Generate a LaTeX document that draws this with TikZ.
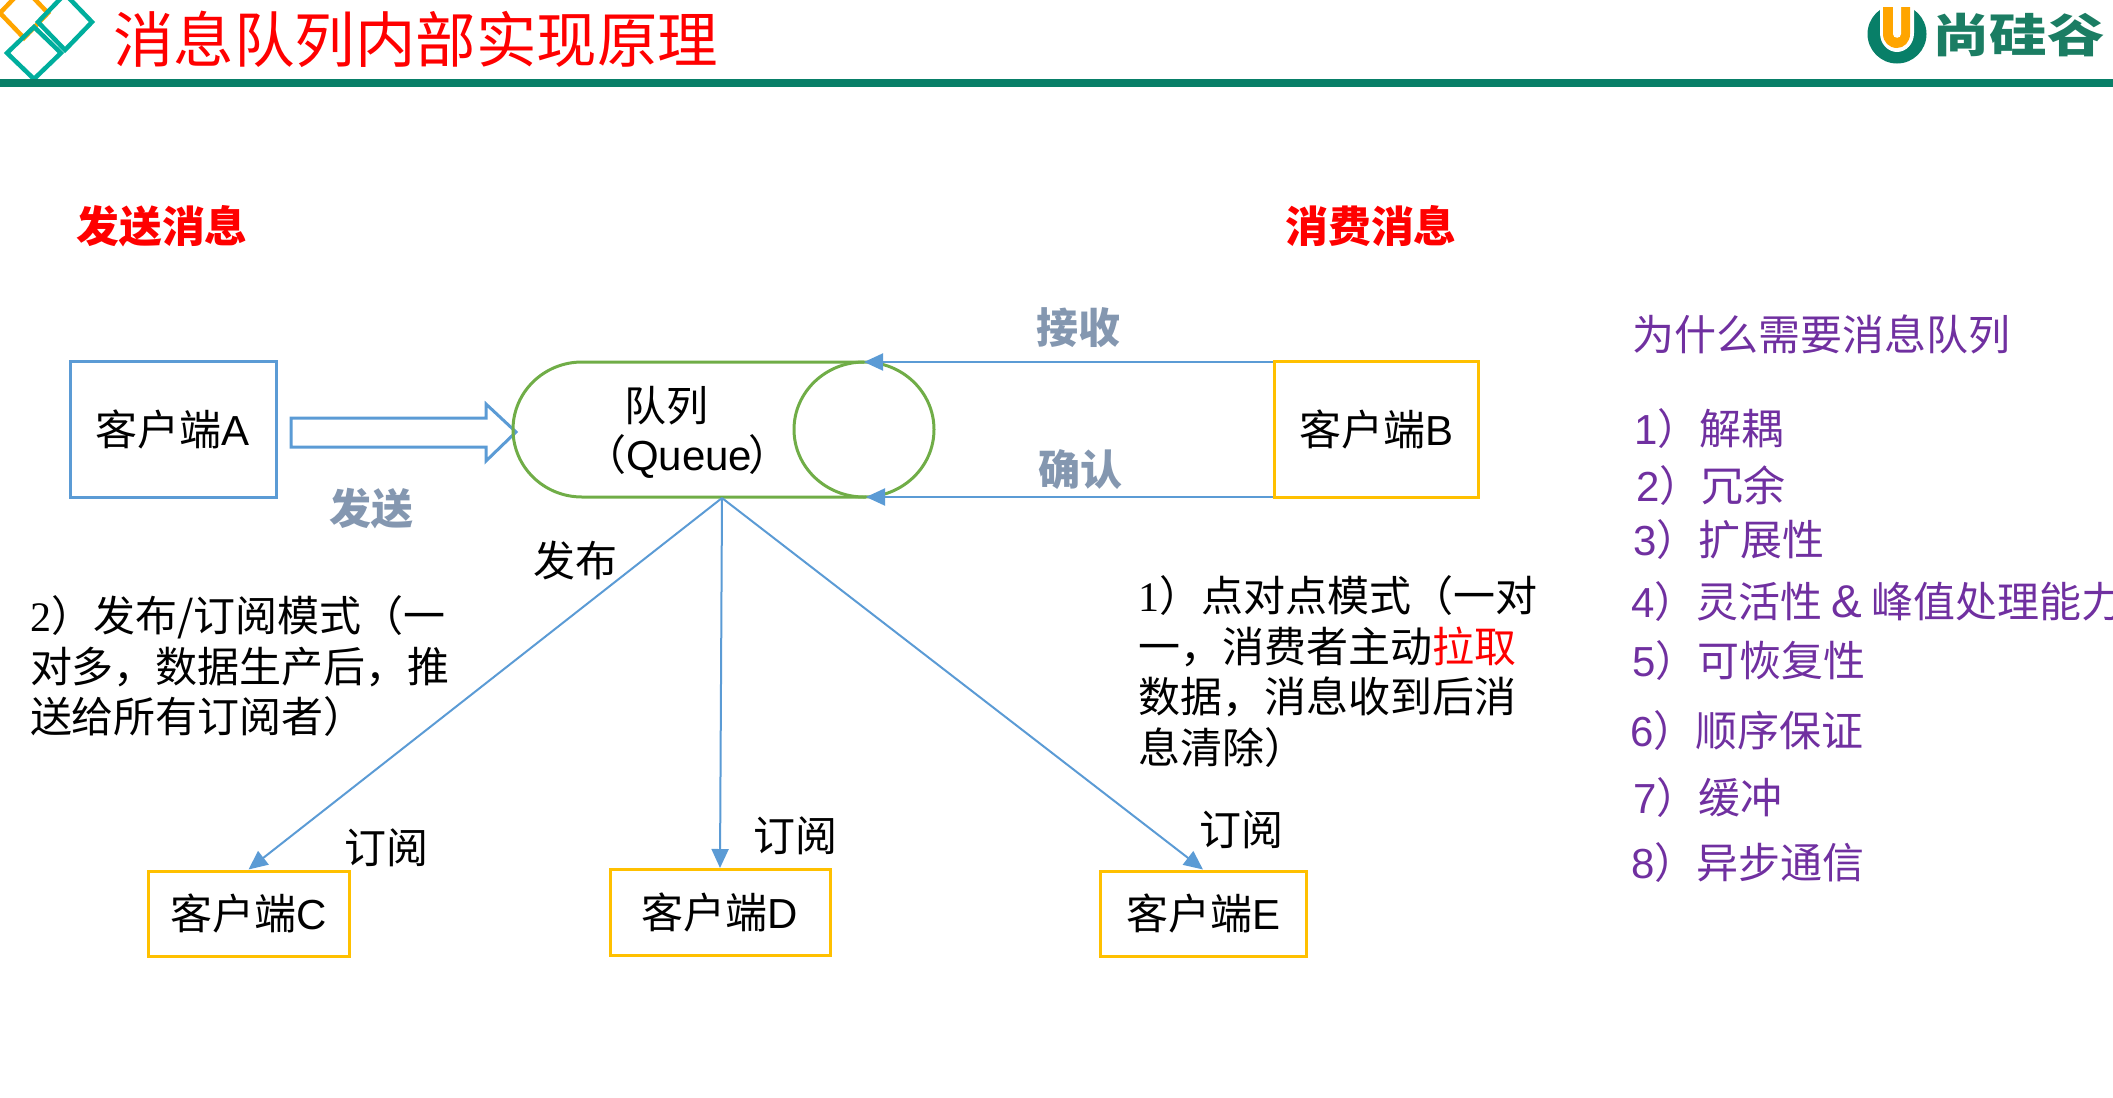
\documentclass[tikz,border=0pt]{standalone}
\usepackage{fontspec}
\usetikzlibrary{arrows.meta}
\setmainfont{Noto Sans CJK SC}
\newfontfamily\arialf{Liberation Sans}
\newfontfamily\timesf{Liberation Serif}
\newcommand{\lat}[1]{{\arialf #1}}
\newcommand{\ser}[1]{{\timesf #1}}
\newcommand{\cli}[1]{\raisebox{-1.5pt}{客户端\lat{#1}}}
\definecolor{bandgreen}{HTML}{087F68}
\definecolor{logogreen}{HTML}{1B7D63}
\definecolor{diamteal}{HTML}{00AE9D}
\definecolor{diamorange}{HTML}{FFA500}
\definecolor{boxblue}{HTML}{5B9BD5}
\definecolor{boxyellow}{HTML}{FFC000}
\definecolor{qgreen}{HTML}{70AD47}
\definecolor{greyblue}{HTML}{8497B0}
\definecolor{listpurple}{HTML}{7030A0}
\tikzset{
  x=1pt,y=-1pt,
  txt/.style={inner sep=0pt,outer sep=0pt,font=\fontsize{42}{50.5}\selectfont},
  boldred/.style={txt,font=\fontsize{42.8}{50}\selectfont\bfseries,text=red},
  boldgrey/.style={txt,font=\fontsize{42}{50}\selectfont\bfseries,text=greyblue},
  listitem/.style={txt,anchor=west,text=listpurple},
  note/.style={txt,anchor=north west,align=left},
  bluebox/.style={draw=boxblue,line width=3pt,inner sep=0pt,font=\fontsize{42}{50}\selectfont},
  yellowbox/.style={draw=boxyellow,line width=3pt,inner sep=0pt,font=\fontsize{42}{50}\selectfont},
  conn/.style={draw=boxblue,line width=2pt,-{Triangle[length=19pt,width=17pt]}},
  diam/.style={line width=4.5pt,fill=none},
}
\begin{document}
\begin{tikzpicture}
\useasboundingbox (0,0) rectangle (2113,1098);
% header decoration
\draw[diam,draw=diamorange] (24,-12) -- (48,13) -- (24,38) -- (0,13) -- cycle;
\draw[diam,draw=diamteal] (65,-6) -- (92,22) -- (65,50) -- (38,22) -- cycle;
\draw[diam,draw=diamteal] (34,27) -- (61,53) -- (34,79) -- (7,53) -- cycle;
\fill[bandgreen] (0,79) rectangle (2113,87);
\node[txt,font=\fontsize{60.5}{60}\selectfont,text=red,anchor=west] (title) at (113,39) {消息队列内部实现原理};
% logo
\fill[bandgreen] (1897,34) circle[radius=29.5];
\fill[white] (1880,0) -- (1914,0) -- (1914,33) .. controls (1914,44) and (1906,52) .. (1897,52) .. controls (1888,52) and (1880,44) .. (1880,33) -- cycle;
\fill[diamorange] (1883,7) -- (1910,7) -- (1910,34) .. controls (1910,42) and (1904,48) .. (1897,48) .. controls (1889,48) and (1883,42) .. (1883,34) -- cycle;
\fill[white] (1893,7) -- (1901,7) -- (1901,34) .. controls (1901,39) and (1893,39) .. (1893,34) -- cycle;
\node[txt,font=\fontsize{46}{46}\selectfont\bfseries,text=logogreen,anchor=west,xscale=1.25] (logotext) at (1932,35) {尚硅谷};
% labels
\node[boldred] (sendmsg) at (162,226) {发送消息};
\node[boldred] (consmsg) at (1371,226) {消费消息};
\node[boldgrey] (recv) at (1078,327.5) {接收};
\node[boldgrey] (ack) at (1080,470) {确认};
\node[boldgrey] (send) at (371,509) {发送};
% clients
\node[bluebox,minimum width=206pt,minimum height=136pt] (a) at (173,429) {\cli{A}};
\node[yellowbox,minimum width=204pt,minimum height=136pt] (b) at (1376,429) {\cli{B}};
\node[yellowbox,minimum width=201pt,minimum height=85pt] (c) at (248.5,913.5) {\cli{C}};
\node[yellowbox,minimum width=220pt,minimum height=86pt] (d) at (720,912.5) {\cli{D}};
\node[yellowbox,minimum width=206pt,minimum height=85pt] (e) at (1203,913.5) {\cli{E}};
% hollow arrow
\draw[draw=boxblue,line width=3pt,line join=miter] (291,418) -- (486,418) -- (486,404) -- (516,432) -- (486,461) -- (486,447) -- (291,447) -- cycle;
% queue
\coordinate (qtop) at (864,362);
\coordinate (qbot) at (866,497);
\coordinate (qpub) at (722,498);
\draw[draw=qgreen,line width=3pt] (qtop) -- (582,362) .. controls (544,362) and (513,392) .. (513,429.5) .. controls (513,467) and (544,497) .. (582,497) -- (qbot);
\draw[draw=qgreen,line width=3pt] (864,429.5) ellipse[x radius=70,y radius=67.5];
\node[txt] (q1) at (666,406) {队列};
\node[txt,anchor=west] (q2) at (584,456.5) {（\lat{Queue}\kern-4pt）};
% connectors
\draw[conn] (b.west |- qtop) -- (qtop);
\draw[conn] (b.west |- qbot) -- (qbot);
\draw[conn] (qpub) -- (c.north);
\draw[conn] (qpub) -- (d.north);
\draw[conn] (qpub) -- (e.north);
\node[txt] (pub) at (575,560.5) {发布};
\node[txt] (s1) at (386,847.5) {订阅};
\node[txt] (s2) at (795,835.5) {订阅};
\node[txt] (s3) at (1241,829.5) {订阅};
% notes
\node[note] (pubnote) at (30,596) {\ser{2}）发布/订阅模式（一\\对多，数据生产后，推\\送给所有订阅者）};
\node[note] (p2pnote) at (1138,576) {\ser{1}）点对点模式（一对\\一，消费者主动\textcolor{red}{拉取}\\数据，消息收到后消\\息清除）};
% list
\node[listitem] (why) at (1632,334.5) {为什么需要消息队列};
\node[listitem] (l1) at (1634,428.5) {\lat{1}）解耦};
\node[listitem] (l2) at (1636,485.5) {\lat{2}）冗余};
\node[listitem] (l3) at (1633,540) {\lat{3}）扩展性};
\node[listitem] (l4) at (1631,601.5) {\lat{4}）灵活性 {\arialf\fontsize{46}{50}\selectfont\&} 峰值处理能力};
\node[listitem] (l5) at (1632,660.5) {\lat{5}）可恢复性};
\node[listitem] (l6) at (1630,730.5) {\lat{6}）顺序保证};
\node[listitem] (l7) at (1633,798) {\lat{7}）缓冲};
\node[listitem] (l8) at (1631,863) {\lat{8}）异步通信};
\end{tikzpicture}
\end{document}
